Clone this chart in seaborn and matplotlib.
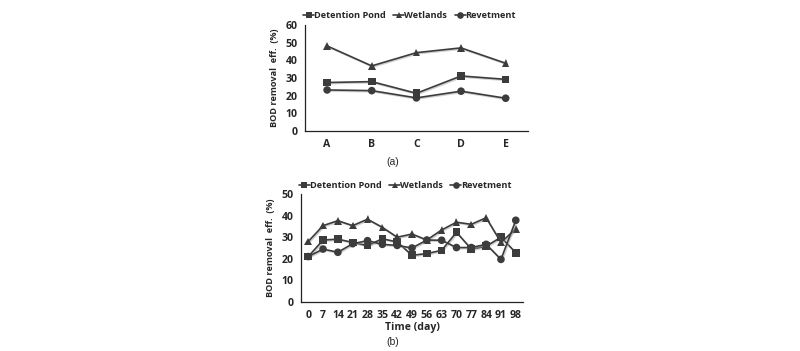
import matplotlib
matplotlib.use("Agg")
import matplotlib.pyplot as plt
import matplotlib.patheffects as pe
import pandas as pd
import seaborn as sns

series_names = ['Detention Pond', 'Wetlands', 'Revetment']
series_markers = {'Detention Pond': 's', 'Wetlands': '^', 'Revetment': 'o'}

# panel (a): by site
sites = ['A', 'B', 'C', 'D', 'E']
site_detention = [27.4, 27.9, 21.3, 31.1, 29.2]
site_wetlands = [48.1, 36.8, 44.3, 47.0, 38.3]
site_revetment = [23.2, 22.8, 18.7, 22.5, 18.5]

# panel (b): by time
days = ['0', '7', '14', '21', '28', '35', '42', '49', '56', '63', '70', '77', '84', '91', '98']
day_detention = [21.0, 28.7, 29.1, 27.6, 26.1, 29.3, 27.8, 21.6, 22.4, 23.9, 32.3, 24.5, 25.8, 30.0, 22.8]
day_wetlands = [28.0, 35.4, 37.7, 35.4, 38.4, 34.6, 30.0, 31.5, 28.7, 33.4, 37.0, 36.0, 39.1, 27.6, 33.9]
day_revetment = [21.0, 24.5, 23.0, 27.0, 28.4, 26.7, 26.2, 25.0, 28.7, 28.6, 25.2, 25.2, 26.7, 19.7, 37.9]


def long_frame(xs, a, b, c):
    rows = []
    for name, vals in zip(series_names, [a, b, c]):
        for x, v in zip(xs, vals):
            rows.append({'x': x, 'value': v, 'series': name})
    return pd.DataFrame(rows)


sns.set_style('white')
plt.rcParams['font.family'] = ['Open Sans', 'DejaVu Sans']
plt.rcParams['font.weight'] = 'bold'

line_color = '#3c3c3c'
palette = {n: line_color for n in series_names}
shadow = [pe.SimpleLineShadow(offset=(0.8, -0.8), shadow_color='#a0a0a0', alpha=0.5), pe.Normal()]

fig = plt.figure(figsize=(8, 3.51), dpi=100)
ax_a = fig.add_axes([0.381, 0.627, 0.279, 0.302])
ax_b = fig.add_axes([0.376, 0.1405, 0.278, 0.306])

FS = 7.6
LEG_FS = 6.6


def draw_panel(ax, xs, a, b, c, ymax, step, xlabel=None):
    data = long_frame(xs, a, b, c)
    sns.lineplot(data=data, x='x', y='value', hue='series', style='series',
                 palette=palette, markers=series_markers, dashes=False,
                 markersize=5.5, linewidth=1.2, markeredgewidth=0,
                 sort=False, ax=ax)
    for line in ax.get_lines():
        line.set_path_effects(shadow)
    handles, labels = ax.get_legend_handles_labels()
    for h in handles:
        h.set_markersize(4.8)
        h.set_path_effects([])
    ax.legend(handles, labels, ncol=3, loc='lower center', bbox_to_anchor=(0.47, 0.99),
              frameon=False, prop={'size': LEG_FS, 'weight': 'bold'}, handlelength=1.2,
              handletextpad=0.0, columnspacing=0.8, borderaxespad=0.2)

    n = len(xs)
    ax.set_xlim(-0.5, n - 0.5)
    ax.set_ylim(0, ymax)
    ax.set_yticks(range(0, ymax + 1, step))
    ax.set_xticks(range(n))
    ax.set_xticklabels(xs)
    ax.set_xticks([i - 0.5 for i in range(n + 1)], minor=True)
    ax.tick_params(axis='x', which='major', length=0, pad=6, labelsize=FS)
    ax.tick_params(axis='x', which='minor', length=3, width=0.8, direction='out', color='#222222')
    ax.tick_params(axis='y', length=3, width=0.8, direction='out', color='#222222', pad=2, labelsize=FS)
    for lbl in ax.get_xticklabels() + ax.get_yticklabels():
        lbl.set_fontweight('bold')
    for side in ['top', 'right']:
        ax.spines[side].set_visible(False)
    for side in ['left', 'bottom']:
        ax.spines[side].set_color('#222222')
        ax.spines[side].set_linewidth(0.9)
    ax.set_ylabel('BOD removal  eff.  (%)', fontsize=LEG_FS, fontweight='bold', labelpad=5)
    if xlabel:
        ax.set_xlabel(xlabel, fontsize=FS, fontweight='bold', labelpad=1)
    else:
        ax.set_xlabel('')
    ax.grid(False)


draw_panel(ax_a, sites, site_detention, site_wetlands, site_revetment, 60, 10)
draw_panel(ax_b, days, day_detention, day_wetlands, day_revetment, 50, 10, xlabel='Time (day)')

fig.text(0.491, 1 - 162 / 351, '(a)', ha='center', va='center', fontsize=7.5,
         fontweight='normal', family=['Liberation Sans', 'DejaVu Sans'])
fig.text(0.491, 1 - 342 / 351, '(b)', ha='center', va='center', fontsize=7.5,
         fontweight='normal', family=['Liberation Sans', 'DejaVu Sans'])

fig.savefig('out.png', dpi=100)
